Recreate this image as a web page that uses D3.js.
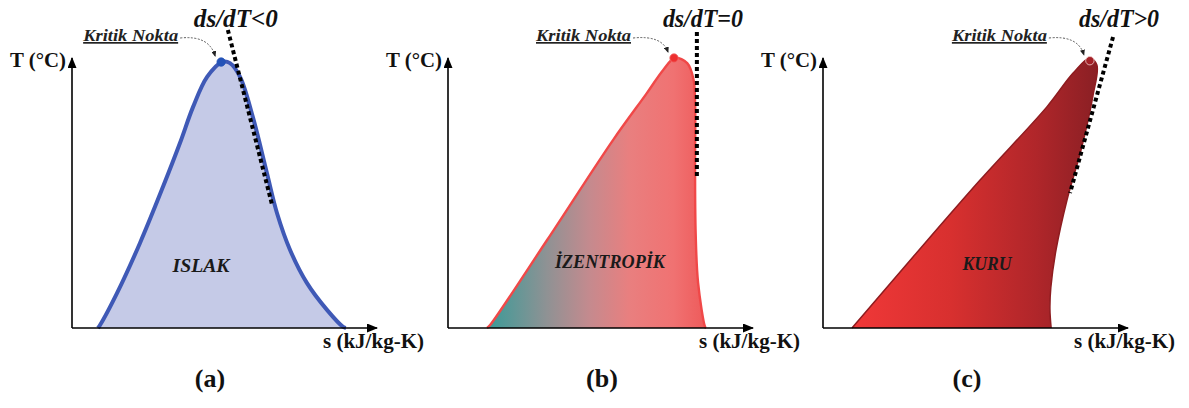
<!DOCTYPE html>
<html>
<head>
<meta charset="utf-8">
<script src="https://cdn.jsdelivr.net/npm/d3@7"></script>
<style>
  body { margin: 0; background: #fff; }
  svg text { font-family: "Liberation Serif", "Times New Roman", serif; font-weight: bold; }
</style>
</head>
<body>
<script>
// Saturation dome outlines as [s, T] pairs, relative units (0-10 on each axis)
const wetDome = [[0.85,0],[0.92,0.11],[1.48,1.30],[2.23,3.15],[2.98,5.22],[3.54,6.85],[3.97,8.19],
  [4.43,9.30],[4.92,9.85],[5.18,9.81],[5.51,9.30],[5.93,7.81],[6.39,5.74],[6.72,4.26],[7.15,2.89],
  [7.70,1.67],[8.36,0.67],[8.89,0.04],[8.98,0]];
const isenDome = [[1.28,0],[1.38,0.11],[3.25,3.26],[5.41,6.96],[6.52,8.70],[7.05,9.55],[7.44,10.0],
  [7.85,9.80],[8.05,9.2],[8.10,8.4],[8.10,5.96],[8.12,3.52],[8.20,1.67],[8.43,0.04],[8.46,0]];
const dryDome = [[0.95,0],[2.95,2.63],[5.15,5.48],[7.34,8.19],[8.20,9.44],[8.75,10.0],[8.98,9.74],
  [8.85,8.60],[8.46,6.59],[8.0,4.74],[7.64,2.89],[7.47,1.5],[7.44,0.7],[7.48,0]];

// tangent (ds/dT) lines at the saturated vapour side
const slopeA = [[5.11,11.04],[6.56,4.56]];
const slopeB = [[8.16,10.96],[8.16,5.59]];
const slopeC = [[9.51,10.78],[8.10,5.0]];

// critical points
const critA = [4.89,9.85];
const critB = [7.41,10.0];
const critC = [8.75,9.9];

const regionNames = ["ISLAK", "İZENTROPİK", "KURU"];
const slopeNames = ["ds/dT<0", "ds/dT=0", "ds/dT>0"];
const tags = ["(a)", "(b)", "(c)"];
const critName = "Kritik Nokta";
const xLabel = "s (kJ/kg-K)";
const yLabel = "T (°C)";

const panels = [
  {dome: wetDome, slope: slopeA, crit: critA, ox: 72, tagX: 210, lab: [4.23, 2.3], labW: 57, slopeW: 84,
   fill: "#c5cae7", stroke: "#3f59b6", sw: 4, dot: "#2553b8", dotStroke: "#2553b8"},
  {dome: isenDome, slope: slopeB, crit: critB, ox: 448, tagX: 602, lab: [5.31, 2.44], labW: 110, slopeW: 80,
   fill: "url(#gradB)", stroke: "#f04848", sw: 2.4, dot: "#ee2f2f", dotStroke: "#f06a6a"},
  {dome: dryDome, slope: slopeC, crit: critC, ox: 823, tagX: 967, lab: [5.38, 2.37], labW: 49, slopeW: 80,
   fill: "url(#gradC)", stroke: "#8e1c20", sw: 1.5, dot: "#a32026", dotStroke: "#f3d0d0"}
];

const svg = d3.select("body").append("svg")
    .attr("width", 1189)
    .attr("height", 408);

const defs = svg.append("defs");
defs.append("marker")
    .attr("id", "arr")
    .attr("markerUnits", "userSpaceOnUse")
    .attr("viewBox", "0 0 11 9")
    .attr("markerWidth", 11).attr("markerHeight", 9)
    .attr("refX", 10).attr("refY", 4.5)
    .attr("orient", "auto")
  .append("path").attr("d", "M0,0 L11,4.5 L0,9 Z").attr("fill", "#000");
defs.append("marker")
    .attr("id", "arrSmall")
    .attr("markerUnits", "userSpaceOnUse")
    .attr("viewBox", "0 0 6 5")
    .attr("markerWidth", 6).attr("markerHeight", 5)
    .attr("refX", 5).attr("refY", 2.5)
    .attr("orient", "auto")
  .append("path").attr("d", "M0,0 L6,2.5 L0,5 Z").attr("fill", "#222");

const gB = defs.append("linearGradient").attr("id", "gradB");
[[0, "#3a9b98"], [0.27, "#8e9294"], [0.47, "#c58a8e"], [0.65, "#e97f7f"], [0.85, "#f07272"], [1, "#ee5a5a"]]
  .forEach(s => gB.append("stop").attr("offset", s[0]).attr("stop-color", s[1]));
const gC = defs.append("linearGradient").attr("id", "gradC");
[[0, "#f03838"], [0.4, "#d8302f"], [0.75, "#b0262a"], [1, "#8a1f24"]]
  .forEach(s => gC.append("stop").attr("offset", s[0]).attr("stop-color", s[1]));

// text helper: size, and a forced width so the label spans what the figure shows
function label(g, txt, xPos, yPos, size, anchor, width, italic) {
  const t = g.append("text")
      .attr("x", xPos).attr("y", yPos)
      .attr("text-anchor", anchor)
      .style("font-size", size + "px")
      .style("font-style", italic ? "italic" : "normal")
      .attr("fill", "#111")
      .text(txt);
  if (width) t.attr("textLength", width).attr("lengthAdjust", "spacingAndGlyphs");
  return t;
}

panels.forEach(function(p, i) {
  const x = d3.scaleLinear().domain([0, 10]).range([p.ox, p.ox + 305]);
  const y = d3.scaleLinear().domain([0, 10]).range([328, 58]);
  const g = svg.append("g");

  const line = d3.line()
      .x(d => x(d[0]))
      .y(d => y(d[1]))
      .curve(d3.curveCatmullRom.alpha(0.5));

  // dome fill and outline
  g.append("path")
      .attr("d", line(p.dome) + "Z")
      .attr("fill", p.fill);
  g.append("path")
      .attr("d", line(p.dome))
      .attr("fill", "none")
      .attr("stroke", p.stroke)
      .attr("stroke-width", p.sw)
      .attr("stroke-linejoin", "round");

  // axes with arrowheads
  g.append("line")
      .attr("x1", x(0)).attr("y1", y(0))
      .attr("x2", x.range()[1]).attr("y2", y(0))
      .attr("stroke", "#000").attr("stroke-width", 1.6)
      .attr("marker-end", "url(#arr)");
  g.append("line")
      .attr("x1", x(0)).attr("y1", y(0))
      .attr("x2", x(0)).attr("y2", y.range()[1])
      .attr("stroke", "#000").attr("stroke-width", 1.6)
      .attr("marker-end", "url(#arr)");

  // tangent line
  g.append("path")
      .attr("d", d3.line().x(d => x(d[0])).y(d => y(d[1]))(p.slope))
      .attr("stroke", "#000")
      .attr("stroke-width", 4)
      .attr("stroke-dasharray", "4 3")
      .attr("fill", "none");

  // critical point
  const cx = x(p.crit[0]), cy = y(p.crit[1]);
  g.append("circle")
      .attr("cx", cx).attr("cy", cy).attr("r", 4.2)
      .attr("fill", p.dot)
      .attr("stroke", p.dotStroke)
      .attr("stroke-width", 0.8);

  // "Kritik Nokta" label and its curved arrow
  const tx = cx - 43;
  label(g, critName, tx, 41, 17, "end", 95, true)
      .style("text-decoration", "underline")
      .attr("fill", "#222");
  const sx = tx + 2, sy = 38, ex = cx - 6, ey = cy - 6;
  g.append("path")
      .attr("d", `M${sx},${sy} Q${ex - 6},${sy - 3} ${ex},${ey}`)
      .attr("fill", "none")
      .attr("stroke", "#333")
      .attr("stroke-width", 0.8)
      .attr("stroke-dasharray", "2 1.5")
      .attr("marker-end", "url(#arrSmall)");

  // slope label
  label(g, slopeNames[i], x(p.slope[0][0]) - 34, 27, 25, "start", p.slopeW, true);

  // region name
  label(g, regionNames[i], x(p.lab[0]), y(p.lab[1]) + 6, 18.5, "middle", p.labW, true)
      .attr("fill", "#1a1a1a");

  // axis titles
  label(g, yLabel, p.ox - 6, 67, 20, "end", 56, false);
  label(g, xLabel, p.ox + 352, 348, 20, "end", 101, false);

  // panel tag
  label(g, tags[i], p.tagX, 387, 26, "middle", 0, false);
});
</script>
</body>
</html>
